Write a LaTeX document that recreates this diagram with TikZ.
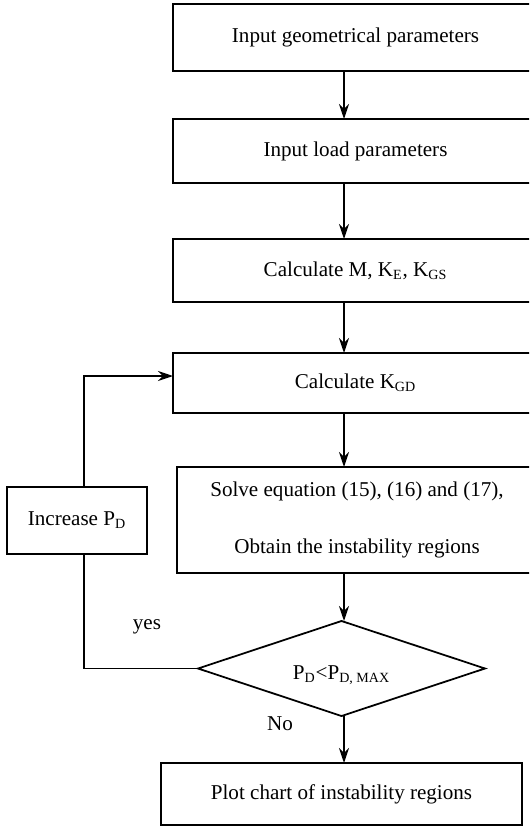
\documentclass[tikz,border=0pt]{standalone}
\usepackage{fontspec}
\setmainfont{Liberation Serif}
\usetikzlibrary{positioning,shapes.geometric,arrows.meta}

\begin{document}
\begin{tikzpicture}[>={Stealth[length=0.3cm,width=0.2cm,inset=0.1cm]},
	font=\fontsize{12}{14}\selectfont,
	stage/.style={rectangle,draw=black,line width=1pt,outer sep=0pt,inner sep=0pt,align=center},
	flow/.style={->,line width=0.8pt}]
	\useasboundingbox (0,0) rectangle (10.58,-16.54);
	\begin{scope}
	\clip (0,0) rectangle (10.58,-16.54);
	\node [stage,minimum width=7.3cm,minimum height=1.34cm] at (7.11,-0.75) (geom) {Input geometrical parameters};
	\node [stage,minimum width=7.3cm,minimum height=1.28cm] at (7.11,-3.02) (load) {Input load parameters};
	\node [stage,minimum width=7.3cm,minimum height=1.26cm] at (7.11,-5.41) (mkk) {Calculate M, K\textsubscript{E}, K\textsubscript{GS}};
	\node [stage,minimum width=7.3cm,minimum height=1.2cm] at (7.11,-7.66) (kgd) {Calculate K\textsubscript{GD}};
	\node [stage,minimum width=7.2cm,minimum height=2.12cm,font=\fontsize{12}{32}\selectfont] at (7.14,-10.4) (solve) {Solve equation (15), (16) and (17),\\Obtain the instability regions};
	\end{scope}
	\node [stage,minimum width=2.8cm,minimum height=1.34cm] at (1.54,-10.41) (incr) {Increase P\textsubscript{D}};
	\node [diamond,draw=black,line width=1pt,outer sep=0pt,inner sep=0pt,minimum width=5.74cm,minimum height=1.9cm] at (6.83,-13.37) (check) {};
	\node at (6.83,-13.5) (cond) {P\textsubscript{D}<P\textsubscript{D, MAX}};
	\node [stage,minimum width=7.22cm,minimum height=1.24cm] at (6.83,-15.88) (plot) {Plot chart of instability regions};
	\coordinate (axis) at (6.88,0);
	\coordinate (back) at (1.68,-7.52);
	% main chain
	\draw [flow] (geom.south -| axis) -- (load.north -| axis);
	\draw [flow] (load.south -| axis) -- (mkk.north -| axis);
	\draw [flow] (mkk.south -| axis) -- (kgd.north -| axis);
	\draw [flow] (kgd.south -| axis) -- (solve.north -| axis);
	\draw [flow] (solve.south -| axis) -- (check.north -| axis);
	\draw [flow] (check.south -| axis) -- (plot.north -| axis);
	% loop back
	\draw [line width=0.8pt] (check.west) -- (check.west -| back) -- (incr.south -| back);
	\draw [flow] (incr.north -| back) -- (back) -- (back -| kgd.west);
	\node at (2.94,-12.54) (yes) {yes};
	\node at (5.6,-14.48) (no) {No};
\end{tikzpicture}
\end{document}
